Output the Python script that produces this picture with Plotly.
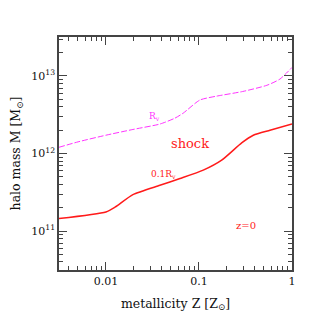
import plotly.graph_objects as go
import numpy as np

# R_v curve (magenta, dashed)
rv_logz = [-2.505, -2.30, -2.0, -1.71, -1.42, -1.26, -1.17, -0.99, -0.81, -0.53, -0.27, -0.13, 0.0]
rv_logm = [12.08, 12.15, 12.236, 12.31, 12.38, 12.455, 12.52, 12.69, 12.74, 12.80, 12.88, 12.96, 13.11]
# 0.1 R_v curve (red, solid)
r01_logz = [-2.505, -2.0, -1.9, -1.71, -1.42, -1.204, -0.954, -0.756, -0.541, -0.416, -0.237, 0.0]
r01_logm = [11.161, 11.246, 11.31, 11.47, 11.59, 11.677, 11.785, 11.914, 12.137, 12.236, 12.30, 12.38]

xtick_vals = [0.01, 0.1, 1]
xtick_text = ["0.01", "0.1", "1"]
ytick_vals = [1e11, 1e12, 1e13]
ytick_text = ["10<sup>11</sup>", "10<sup>12</sup>", "10<sup>13</sup>"]

FONT = "DejaVu Serif"
AX = "#444444"

fig = go.Figure()
fig.add_trace(go.Scatter(x=10 ** np.array(rv_logz), y=10 ** np.array(rv_logm), mode="lines",
                         line=dict(color="#ff33ff", width=1, dash="6px,2px", shape="spline", smoothing=0.6),
                         showlegend=False))
fig.add_trace(go.Scatter(x=10 ** np.array(r01_logz), y=10 ** np.array(r01_logm), mode="lines",
                         line=dict(color="#ff1a1a", width=1.5, shape="spline", smoothing=0.6),
                         showlegend=False))

axcommon = dict(showline=True, linecolor=AX, linewidth=1.5, mirror="ticks", ticks="inside",
                tickcolor=AX, tickwidth=1, ticklen=8, showgrid=False, zeroline=False, automargin=False,
                tickfont=dict(family=FONT, size=11, color="#111"),
                minor=dict(ticks="inside", ticklen=4, tickcolor=AX, dtick="D1", showgrid=False))

fig.update_xaxes(type="log", range=[np.log10(0.00313), 0.0], tickvals=xtick_vals, ticktext=xtick_text,
                 title=dict(text="metallicity Z [Z<sub>⊙</sub>]", font=dict(family=FONT, size=12.5, color="#111"), standoff=12),
                 **axcommon)
fig.update_yaxes(type="log", range=[10.497, 13.503], tickvals=ytick_vals, ticktext=ytick_text,
                 title=dict(text="halo mass M [M<sub>⊙</sub>]", font=dict(family=FONT, size=12.5, color="#111"), standoff=10),
                 **axcommon)

fig.add_annotation(x=np.log10(0.0336), y=12.48, xref="x", yref="y", text="R<sub>v</sub>",
                   showarrow=False, font=dict(family=FONT, size=9, color="#ff33ff"))
fig.add_annotation(x=np.log10(0.042), y=11.733, xref="x", yref="y", text="0.1R<sub>v</sub>",
                   showarrow=False, font=dict(family=FONT, size=9, color="#ff1a1a"))
fig.add_annotation(x=np.log10(0.08), y=12.133, xref="x", yref="y", text="shock",
                   showarrow=False, font=dict(family=FONT, size=13, color="#ff1a1a"))
fig.add_annotation(x=np.log10(0.32), y=11.077, xref="x", yref="y", text="z=0",
                   showarrow=False, font=dict(family=FONT, size=10, color="#ff1a1a"))

fig.update_layout(width=311, height=311, margin=dict(l=51, r=27, t=29, b=49),
                  paper_bgcolor="white", plot_bgcolor="white")
fig.write_html("out.html")
